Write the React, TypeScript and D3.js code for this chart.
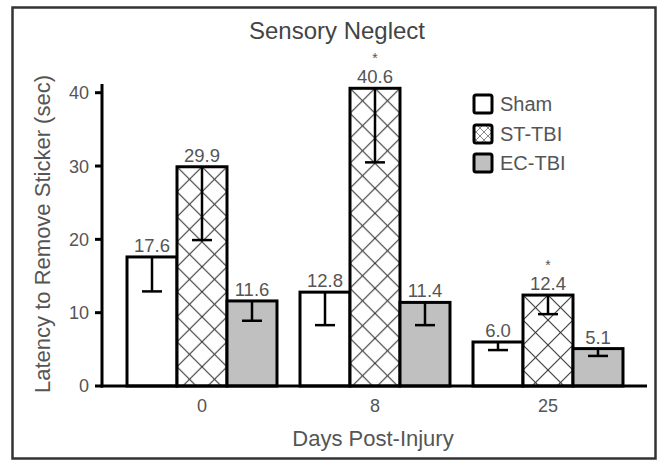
import React from "react";
import * as d3 from "d3";

const categories = ["0", "8", "25"];
const seriesNames = ["Sham", "ST-TBI", "EC-TBI"];
const shamValues = [17.6, 12.8, 6.0];
const stValues = [29.9, 40.6, 12.4];
const ecValues = [11.6, 11.4, 5.1];
const shamErr = [4.7, 4.5, 1.1];
const stErr = [10.0, 10.1, 2.6];
const ecErr = [2.7, 3.1, 1.0];
const shamSig = ["", "", ""];
const stSig = ["", "*", "*"];
const ecSig = ["", "", ""];
const yTicks = [0, 10, 20, 30, 40];

const W = 657;
const H = 461;
const FONT = "'Liberation Sans', Arial, sans-serif";
const TXT = "#555";

export default function App() {
  const y = d3.scaleLinear().domain([0, 40]).range([386, 92.7]);
  const x0 = d3
    .scaleBand<string>()
    .domain(categories)
    .range([115.5, 634.5])
    .paddingInner(0.133)
    .paddingOuter(0.0665);
  const x1 = d3.scaleBand<string>().domain(seriesNames).range([0, x0.bandwidth()]);

  const fills = ["#ffffff", "url(#xhatch)", "#c0c0c0"];
  const valueSets = [shamValues, stValues, ecValues];
  const errSets = [shamErr, stErr, ecErr];
  const sigSets = [shamSig, stSig, ecSig];

  const bars: any[] = [];
  const errs: any[] = [];
  const labels: any[] = [];
  seriesNames.forEach((s, si) => {
    categories.forEach((c, ci) => {
      const v = valueSets[si][ci];
      const e = errSets[si][ci];
      const bx = (x0(c) as number) + (x1(s) as number);
      const bw = x1.bandwidth();
      const top = y(v);
      const cx = bx + bw / 2;
      bars.push(
        <g key={`b-${si}-${ci}`} transform={`translate(${bx},${top})`}>
          <rect x={0} y={0} width={bw} height={y(0) - top} fill={fills[si]} stroke="#000" strokeWidth={3} />
        </g>
      );
      errs.push(
        <g key={`e-${si}-${ci}`} stroke="#000" strokeWidth={2.5}>
          <line x1={cx} x2={cx} y1={top} y2={y(v - e)} />
          <line x1={cx - 10} x2={cx + 10} y1={y(v - e)} y2={y(v - e)} />
        </g>
      );
      labels.push(
        <text key={`l-${si}-${ci}`} x={cx} y={top - 5} textAnchor="middle" fontSize={18.5} fill={TXT}>
          {v.toFixed(1)}
        </text>
      );
      if (sigSets[si][ci]) {
        labels.push(
          <text key={`s-${si}-${ci}`} x={cx} y={top - 25} textAnchor="middle" fontSize={14} fill={TXT}>
            {sigSets[si][ci]}
          </text>
        );
      }
    });
  });

  const legendY = [104, 134, 163];

  return (
    <svg
      width={W}
      height={H}
      style={{ position: "absolute", left: 0, top: 0, display: "block", background: "#fff" }}
      fontFamily={FONT}
    >
      <defs>
        <pattern id="xhatch" patternUnits="userSpaceOnUse" width={25} height={25}>
          <rect width={25} height={25} fill="#fff" />
          <line x1={0} y1={0} x2={25} y2={25} stroke="#333" strokeWidth={1.1} />
          <line x1={25} y1={0} x2={0} y2={25} stroke="#333" strokeWidth={1.1} />
        </pattern>
        <pattern id="xhatchSmall" patternUnits="userSpaceOnUse" width={8} height={8}>
          <rect width={8} height={8} fill="#fff" />
          <line x1={0} y1={0} x2={8} y2={8} stroke="#888" strokeWidth={1} />
          <line x1={8} y1={0} x2={0} y2={8} stroke="#888" strokeWidth={1} />
        </pattern>
      </defs>
      <rect x={0} y={0} width={W} height={H} fill="#fff" />
      <rect x={12.5} y={7.5} width={643} height={451} fill="none" stroke="#333" strokeWidth={2.5} />

      <text x={337} y={39} textAnchor="middle" fontSize={24} fill="#444">
        Sensory Neglect
      </text>

      <text
        transform={`translate(50,234) rotate(-90)`}
        textAnchor="middle"
        fontSize={21.5}
        fill={TXT}
        textLength={318}
        lengthAdjust="spacingAndGlyphs"
      >
        Latency to Remove Sticker (sec)
      </text>

      {bars}
      {errs}
      {labels}

      {/* y axis */}
      <line x1={102} x2={102} y1={y(0) + 1.5} y2={84} stroke="#000" strokeWidth={3} />
      {yTicks.map((t) => (
        <g key={`yt-${t}`}>
          <line x1={95} x2={102} y1={y(t)} y2={y(t)} stroke="#000" strokeWidth={3} />
          <text x={89} y={y(t)} dy="0.36em" textAnchor="end" fontSize={18} fill={TXT}>
            {t}
          </text>
        </g>
      ))}

      {/* x axis */}
      <line x1={100.5} x2={647} y1={y(0)} y2={y(0)} stroke="#000" strokeWidth={3} />
      {categories.map((c) => (
        <text
          key={`xt-${c}`}
          x={(x0(c) as number) + x0.bandwidth() / 2}
          y={412}
          textAnchor="middle"
          fontSize={18}
          fill={TXT}
        >
          {c}
        </text>
      ))}
      <text x={373} y={446} textAnchor="middle" fontSize={22} fill={TXT}>
        Days Post-Injury
      </text>

      {/* legend */}
      {seriesNames.map((s, i) => (
        <g key={`lg-${s}`}>
          <rect
            x={474}
            y={legendY[i] - 9}
            width={18}
            height={18}
            rx={2}
            fill={i === 1 ? "url(#xhatchSmall)" : fills[i]}
            stroke="#000"
            strokeWidth={3}
          />
          <text x={500} y={legendY[i] + 7} fontSize={20} fill={TXT}>
            {s}
          </text>
        </g>
      ))}
    </svg>
  );
}
